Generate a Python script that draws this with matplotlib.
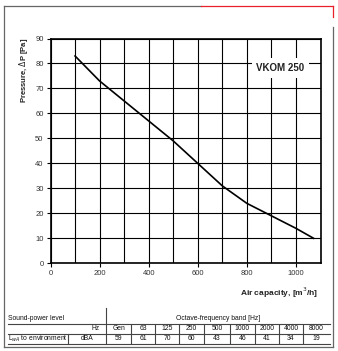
import matplotlib
matplotlib.use("Agg")
import matplotlib.pyplot as plt
from matplotlib.lines import Line2D

plt.rcParams['font.family'] = ['Liberation Sans', 'DejaVu Sans']

# fan curve
flow = [100, 200, 300, 400, 500, 600, 700, 800, 900, 1000, 1072]
pressure = [83, 73, 65, 57, 49, 40, 31, 24, 19, 14, 10]

# sound table
bands = ['Gen', '63', '125', '250', '500', '1000', '2000', '4000', '8000']
dba = [59, 61, 70, 60, 43, 46, 41, 34, 19]

W, H = 338, 351


def px(x, y):
    return x / W, 1 - y / H


def hline(x0, x1, y, color='#444444', lw=0.8):
    fig.add_artist(Line2D([x0 / W, x1 / W], [1 - y / H, 1 - y / H],
                          transform=fig.transFigure, color=color, lw=lw))


def vline(x, y0, y1, color='#444444', lw=0.8):
    fig.add_artist(Line2D([x / W, x / W], [1 - y0 / H, 1 - y1 / H],
                          transform=fig.transFigure, color=color, lw=lw))


fig = plt.figure(figsize=(W / 100, H / 100), dpi=100)

# outer frame
hline(4, 201, 6, color='#666666', lw=0.9)
hline(201, 333, 6, color='#e8202a', lw=0.9)
vline(333, 6, 17, color='#e8202a', lw=0.9)
vline(333, 27, 347, color='#666666', lw=0.9)
vline(4, 6, 347, color='#666666', lw=0.9)
hline(4, 333, 347, color='#666666', lw=0.9)

ax = fig.add_axes([50.5 / W, 1 - 263.3 / H, (320.5 - 50.5) / W, (263.3 - 38.5) / H])
ax.plot(flow, pressure, color='black', lw=1.2, zorder=3)
ax.set_xlim(0, 1100)
ax.set_ylim(0, 90)
ax.set_xticks(range(0, 1001, 200))
ax.set_xticks(range(0, 1101, 100), minor=True)
ax.set_yticks(range(0, 91, 10))
ax.grid(True, which='both', color='black', lw=0.8)
ax.tick_params(axis='both', which='major', labelsize=5.5, labelcolor='#333333',
               length=3, width=0.8, pad=2)
ax.tick_params(axis='x', which='minor', length=0)
for s in ax.spines.values():
    s.set_linewidth(1.2)

ax.text(937, 78.2, 'VKOM 250', ha='center', va='center', fontsize=7,
        fontweight='bold', color='#222222', zorder=4,
        bbox=dict(facecolor='white', edgecolor='none', pad=3.5))

fig.text(*px(23, 70), 'Pressure, $\\Delta$P [Pa]', rotation=90, ha='center',
         va='center', fontsize=5.5, fontweight='bold', color='#222222')
fig.text(*px(318, 293), 'Air capacity, [m$^3$/h]', ha='right', va='center',
         fontsize=6, fontweight='bold', color='#222222')

# table
tfs = 4.9
tc = '#111111'
hline(8, 330, 324)
hline(8, 330, 334)
hline(8, 330, 344)
vline(106, 308, 344)
vline(68, 334, 344)
fig.text(*px(8, 319), 'Sound-power level', ha='left', va='center',
         fontsize=tfs, color=tc)
fig.text(*px(218, 319), 'Octave-frequency band [Hz]', ha='center', va='center',
         fontsize=tfs, color=tc)
fig.text(*px(100, 329), 'Hz', ha='right', va='center', fontsize=tfs, color=tc)
fig.text(*px(8, 339), 'L$_{wA}$ to environment', ha='left', va='center',
         fontsize=tfs, color=tc)
fig.text(*px(87, 339), 'dBA', ha='center', va='center', fontsize=tfs, color=tc)

edges = [107, 131, 155, 179, 204, 230, 255, 279, 303, 330]
for i, (b, v) in enumerate(zip(bands, dba)):
    cx = (edges[i] + edges[i + 1]) / 2
    fig.text(*px(cx, 329), b, ha='center', va='center', fontsize=tfs, color=tc)
    fig.text(*px(cx, 339), str(v), ha='center', va='center', fontsize=tfs,
             color=tc)
    if i > 0:
        vline(edges[i], 325, 333)
        vline(edges[i], 335, 343)

fig.savefig('out.png', dpi=100)
